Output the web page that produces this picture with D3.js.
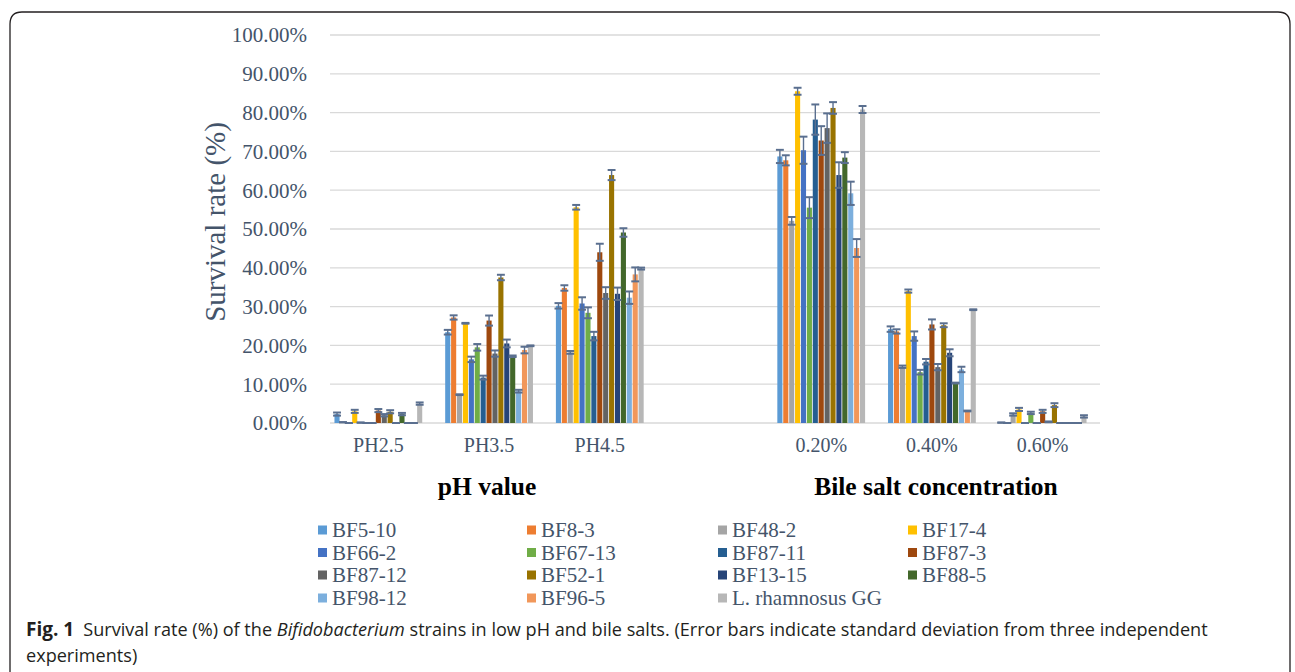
<!DOCTYPE html>
<html><head><meta charset="utf-8">
<script src="https://cdn.jsdelivr.net/npm/d3@7"></script>
<style>
html,body{margin:0;padding:0;background:#fff;}
svg{display:block;}
</style></head>
<body>
<svg id="chart" width="1295" height="672"></svg>
<script>
const categories = ["PH2.5","PH3.5","PH4.5","","0.20%","0.40%","0.60%"];
const seriesNames = ["BF5-10","BF8-3","BF48-2","BF17-4","BF66-2","BF67-13","BF87-11","BF87-3","BF87-12","BF52-1","BF13-15","BF88-5","BF98-12","BF96-5","L. rhamnosus GG"];
const seriesColors = ["#5B9BD5","#ED7D31","#A5A5A5","#FFC000","#4472C4","#70AD47","#255E91","#9E480E","#636363","#997300","#264478","#43682B","#7CAFDD","#F1975A","#B7B7B7"];
// values (%) per series, in category order (empty slot = null)
const values = [
  [2.3, 23.4, 30.2, null, 68.7, 24.2, 0.1],
  [0.2, 27.2, 34.8, null, 67.7, 23.6, 0.0],
  [0.0,  7.3, 18.2, null, 52.1, 14.5, 2.2],
  [3.0, 25.7, 55.6, null, 85.5, 34.0, 3.5],
  [0.1, 16.4, 30.8, null, 70.3, 22.4, 0.0],
  [0.0, 19.5, 28.4, null, 55.5, 13.1, 2.6],
  [0.0, 11.7, 22.4, null, 78.2, 15.8, 0.0],
  [3.2, 26.4, 44.0, null, 72.8, 25.4, 3.0],
  [2.0, 17.9, 33.5, null, 76.0, 14.4, 0.3],
  [2.9, 37.5, 63.9, null, 81.2, 25.2, 4.6],
  [0.0, 20.5, 33.3, null, 63.9, 18.1, 0.0],
  [2.3, 17.2, 49.1, null, 68.4, 10.3, 0.0],
  [0.0,  8.2, 32.3, null, 59.2, 13.8, 0.0],
  [0.0, 18.8, 38.3, null, 45.1,  3.1, 0.0],
  [5.0, 19.9, 39.8, null, 80.8, 29.2, 1.7]
];
const errors = [
  [0.4, 0.6, 0.7, null, 1.7, 0.7, 0.0],
  [0.0, 0.55,0.7, null, 1.3, 0.55,0.0],
  [0.0, 0.1, 0.35,null, 1.0, 0.3, 0.3],
  [0.4, 0.1, 0.6, null, 0.9, 0.4, 0.4],
  [0.0, 0.7, 1.6, null, 3.5, 1.2, 0.0],
  [0.0, 0.85,1.4, null, 2.7, 0.6, 0.3],
  [0.0, 0.5, 1.1, null, 3.9, 0.7, 0.0],
  [0.4, 1.3, 2.2, null, 3.7, 1.3, 0.4],
  [0.3, 0.8, 1.5, null, 3.8, 0.8, 0.1],
  [0.4, 0.7, 1.3, null, 1.5, 0.5, 0.5],
  [0.0, 1.0, 1.6, null, 3.3, 0.9, 0.0],
  [0.3, 0.2, 1.1, null, 1.4, 0.1, 0.0],
  [0.0, 0.35,1.6, null, 3.0, 0.7, 0.0],
  [0.0, 0.85,1.8, null, 2.3, 0.1, 0.0],
  [0.3, 0.1, 0.25,null, 0.9, 0.1, 0.3]
];
const yTicks = [0,10,20,30,40,50,60,70,80,90,100];
const groupTitles = ["pH value","Bile salt concentration"];

const svg = d3.select("#chart");
const textColor = "#44546A";
const serif = "'Liberation Serif','Times New Roman',serif";

// frame
svg.append("path")
  .attr("d","M10,672 L10,24 Q10,12 22,12 L1278,12 Q1290,12 1290,24 L1290,672")
  .attr("fill","none").attr("stroke","#231f20").attr("stroke-width",1.3);

const x0 = d3.scaleBand().domain(d3.range(categories.length)).range([323,1098]).paddingInner(0).paddingOuter(0);
const x1 = d3.scaleBand().domain(d3.range(seriesNames.length)).range([0, x0.bandwidth()*0.8]).padding(0);
const y = d3.scaleLinear().domain([0,100]).range([423,35]);
const groupOffset = x0.bandwidth()*0.1;

// gridlines
svg.append("g").selectAll("line").data(yTicks).join("line")
  .attr("x1",330).attr("x2",1100)
  .attr("y1",d=>y(d)).attr("y2",d=>y(d))
  .attr("stroke","#D9D9D9").attr("stroke-width",1.3);

// y tick labels
svg.append("g").selectAll("text").data(yTicks).join("text")
  .attr("x",307).attr("y",d=>y(d)).attr("dy","0.35em")
  .attr("text-anchor","end")
  .attr("font-family",serif).attr("font-size",21).attr("fill",textColor)
  .text(d=>d.toFixed(2)+"%");

// y title
svg.append("text")
  .attr("transform","translate(225,222) rotate(-90)")
  .attr("text-anchor","middle")
  .attr("font-family",serif).attr("font-size",29).attr("fill",textColor)
  .text("Survival rate (%)");

// bars
const barsG = svg.append("g");
seriesNames.forEach((name, si) => {
  categories.forEach((cat, ci) => {
    const v = values[si][ci];
    if (v === null) return;
    const bx = x0(ci) + groupOffset + x1(si);
    const bw = x1.bandwidth();
    barsG.append("rect")
      .attr("x", bx + 0.4).attr("width", bw - 0.8)
      .attr("y", y(v)).attr("height", y(0) - y(v))
      .attr("fill", seriesColors[si]);
  });
});
// error bars
const errG = svg.append("g").attr("stroke","#5A6F8F").attr("stroke-width",1.4);
seriesNames.forEach((name, si) => {
  categories.forEach((cat, ci) => {
    const v = values[si][ci];
    if (v === null) return;
    const e = errors[si][ci];
    const cx = x0(ci) + groupOffset + x1(si) + x1.bandwidth()/2;
    const hw = x1.bandwidth()/2 + 1;
    const lo = Math.max(0, v - e), hi = v + e;
    errG.append("line").attr("x1",cx).attr("x2",cx).attr("y1",y(lo)).attr("y2",y(hi));
    errG.append("line").attr("x1",cx-hw).attr("x2",cx+hw).attr("y1",y(hi)).attr("y2",y(hi)).attr("stroke-width",2);
    errG.append("line").attr("x1",cx-hw).attr("x2",cx+hw).attr("y1",y(lo)).attr("y2",y(lo)).attr("stroke-width",2);
  });
});

// x axis labels
const xAxis = d3.axisBottom(x0).tickFormat(i=>categories[i]).tickSize(0);
const xg = svg.append("g").attr("transform","translate(0,423)").call(xAxis);
xg.select(".domain").remove();
xg.selectAll("text").attr("font-family",serif).attr("font-size",20).attr("fill",textColor).attr("dy","1.3em");

// group titles
svg.append("text").attr("x",487).attr("y",495).attr("text-anchor","middle")
  .attr("font-family",serif).attr("font-weight","bold").attr("font-size",25.5).attr("fill","#000")
  .text(groupTitles[0]);
svg.append("text").attr("x",936).attr("y",495).attr("text-anchor","middle")
  .attr("font-family",serif).attr("font-weight","bold").attr("font-size",25.5).attr("fill","#000")
  .text(groupTitles[1]);

// legend
const legCols = [318, 527, 718, 908];
const legRows = [530, 552.5, 575, 598];
const leg = svg.append("g");
seriesNames.forEach((name, i) => {
  const c = i % 4, r = Math.floor(i/4);
  leg.append("rect").attr("x",legCols[c]).attr("y",legRows[r]-4.5).attr("width",9).attr("height",9).attr("fill",seriesColors[i]);
  leg.append("text").attr("x",legCols[c]+14).attr("y",legRows[r]).attr("dy","0.35em")
    .attr("font-family",serif).attr("font-size",21).attr("fill",textColor).text(name);
});

// caption
const cap = svg.append("text").attr("x",26).attr("y",636)
  .attr("font-family","'Open Sans','Noto Sans',sans-serif").attr("font-size",18.1).attr("fill","#231f20");
cap.append("tspan").attr("font-weight","bold").attr("font-size",19).text("Fig. 1");
cap.append("tspan").text("\u2002Survival rate (%) of the ");
cap.append("tspan").attr("font-style","italic").text("Bifidobacterium");
cap.append("tspan").text(" strains in low pH and bile salts. (Error bars indicate standard deviation from three independent");
svg.append("text").attr("x",26).attr("y",662)
  .attr("font-family","'Open Sans','Noto Sans',sans-serif").attr("font-size",18.1).attr("fill","#231f20")
  .text("experiments)");
</script>
</body></html>
